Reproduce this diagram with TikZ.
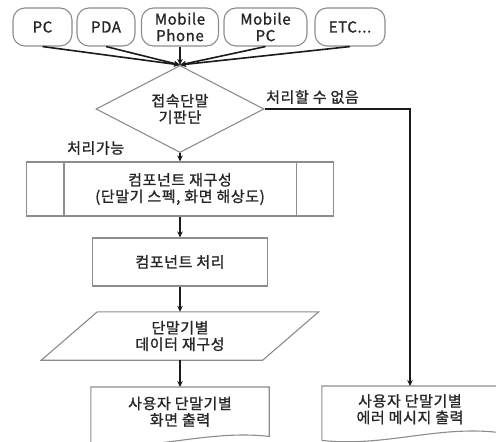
\documentclass[tikz,border=0pt]{standalone}
\usepackage{fontspec}
\setmainfont{Noto Sans CJK KR}[LetterSpace=4,FakeBold=1.2]
\usepackage{tikz}
\usetikzlibrary{arrows.meta,shapes.geometric,calc}
\definecolor{linemain}{HTML}{1A1A1A}
\definecolor{boxgray}{HTML}{8C8C8C}
\definecolor{textmain}{HTML}{262626}
\tikzset{every node/.append style={font=\fontsize{15}{16.5}\selectfont,text=textmain,align=center},
  devbox/.style={draw=boxgray,line width=1.1pt,rounded corners=12pt,minimum height=38pt,inner sep=0pt},
  flowbox/.style={draw=boxgray,line width=1.1pt,inner sep=0pt},
  outline/.style={boxgray,line width=1.1pt},
  flowline/.style={->,linemain,line width=1.6pt}}

\begin{document}
\begin{tikzpicture}[>={Stealth[length=6pt,width=5.5pt]},x=1pt,y=-1pt]
  \clip (0,0) rectangle (496,442);
  \fill[white] (0,0) rectangle (496,442);
  % terminals
  \foreach \name/\x/\w/\txt in {pc/42.5/59/PC,pda/106/58/PDA,phone/180/77/Mobile\\Phone,mpc/265.5/83/Mobile\\PC,etc/350/70/{ETC.{}.{}.}}
    \node[devbox,minimum width=\w pt] (\name) at (\x,27) {\txt};
  \node[flowbox,diamond,minimum width=168pt,minimum height=63pt] (judge) at (180,109) {접속단말\\기판단};
  \foreach \name in {pc,pda,phone,mpc,etc}
    \draw[flowline] (\name.south) -- (judge.north);
  % main flow
  \node[flowbox,minimum width=307pt,minimum height=54pt] (recon) at (180,189) {컴포넌트 재구성\\(단말기 스펙, 화면 해상도)};
  \draw[outline] ($(recon.north west)+(38,0)$) -- ($(recon.south west)+(38,0)$)
    ($(recon.north east)+(-38,0)$) -- ($(recon.south east)+(-38,0)$);
  \node[flowbox,minimum width=175pt,minimum height=48pt] (proc) at (180,262) {컴포넌트 처리};
  \node[minimum width=221pt,minimum height=48pt,inner sep=0pt] (data) at (180,336) {단말기별\\데이터 재구성};
  \draw[outline] ($(data.north west)+(28,0)$) -- ($(data.north east)+(28,0)$)
    -- ($(data.south east)+(-28,0)$) -- ($(data.south west)+(-28,0)$) -- cycle;
  \node[minimum width=178pt,minimum height=49pt,inner sep=0pt,anchor=north] (scr) at (180,387) {사용자 단말기별\\화면 출력};
  \node[minimum width=176pt,minimum height=46pt,inner sep=0pt,anchor=north] (err) at (410,386) {사용자 단말기별\\에러 메시지 출력};
  \foreach \doc in {scr,err}
    \draw[outline] ($(\doc.south west)+(0,8)$) -- (\doc.north west) -- (\doc.north east) -- (\doc.south east)
      .. controls +(-62,-7) and +(62,7) .. ($(\doc.south west)+(0,8)$);
  \draw[flowline] (judge.south) -- (recon.north);
  \draw[flowline] (recon.south) -- (proc.north);
  \draw[flowline] (proc.south) -- (data.north);
  \draw[flowline] (data.south) -- (scr.north);
  \draw[flowline] (judge.east) -| (err.north);
  \node[anchor=west,inner sep=0pt] (cannot) at (266,97) {처리할 수 없음};
  \node[anchor=west,inner sep=0pt] (can) at (67,148) {처리가능};
\end{tikzpicture}
\end{document}
